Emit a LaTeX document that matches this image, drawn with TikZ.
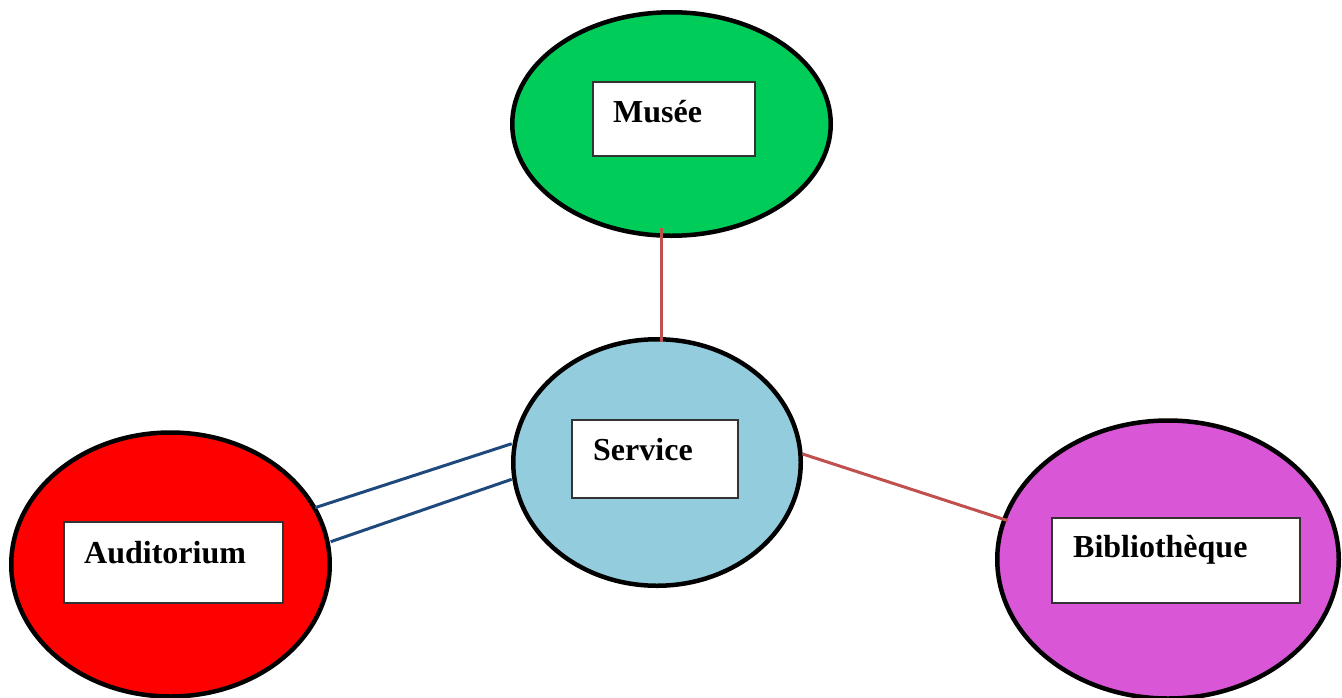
\documentclass[tikz,border=0pt]{standalone}
\usepackage{fontspec}
\setmainfont{Liberation Serif}
\usetikzlibrary{shapes.geometric,calc}
\definecolor{cgreen}{HTML}{00CC5A}
\definecolor{cblue}{HTML}{93CDDD}
\definecolor{cred}{HTML}{FF0000}
\definecolor{cmag}{HTML}{D957D6}
\definecolor{lred}{HTML}{C0504D}
\definecolor{lblue}{HTML}{1F497D}
\tikzset{
  blob/.style={ellipse, draw=black, line width=4.5pt, inner sep=0pt},
  labbox/.style={rectangle, draw=black!80, fill=white, line width=1.2pt, inner sep=0pt},
  labtxt/.style={anchor=base west, inner sep=0pt, font=\fontsize{32}{36}\selectfont\bfseries},
  redlink/.style={draw=lred, line width=3pt},
  bluelink/.style={draw=lblue, line width=3pt},
}
\begin{document}
\begin{tikzpicture}[x=1pt,y=1pt]
\useasboundingbox (0,0) rectangle (1342,-697);
% ellipses
\node[blob, fill=cgreen, minimum width=318.5pt, minimum height=223.5pt] (musee) at (671.5,-124) {};
\node[blob, fill=cblue, minimum width=287.5pt, minimum height=246.5pt] (service) at (657,-462.5) {};
\node[blob, fill=cred, minimum width=318.5pt, minimum height=264pt] (audit) at (170.5,-564.5) {};
\node[blob, fill=cmag, minimum width=341.5pt, minimum height=278pt] (biblio) at (1168,-559.5) {};
% boxes
\node[labbox, minimum width=162pt, minimum height=74pt] (mbox) at (674,-119) {};
\node[labbox, minimum width=166pt, minimum height=78pt] (sbox) at (655,-459) {};
\node[labbox, minimum width=219pt, minimum height=81pt] (abox) at (173.5,-562.5) {};
\node[labbox, minimum width=248pt, minimum height=85pt] (bbox) at (1176,-560.5) {};
% texts
\node[labtxt] (mtxt) at (613,-122) {Musée};
\node[labtxt] (stxt) at (593,-460) {Service};
\node[labtxt] (atxt) at (84,-563) {Auditorium};
\node[labtxt] (btxt) at (1073,-557) {Bibliothèque};
% connectors
\draw[redlink] ($(musee.center)+(-10.5,-104)$) -- ($(service.center)+(4,120.5)$);
\draw[redlink] ($(service.center)+(145.7,8.5)$) -- ($(biblio.center)+(-160,38.8)$);
\draw[bluelink] ($(audit.center)+(144.5,56.8)$) -- ($(service.center)+(-145.3,18.8)$);
\draw[bluelink] ($(audit.center)+(160.2,22.8)$) -- ($(service.center)+(-145.3,-16.8)$);
\end{tikzpicture}
\end{document}
